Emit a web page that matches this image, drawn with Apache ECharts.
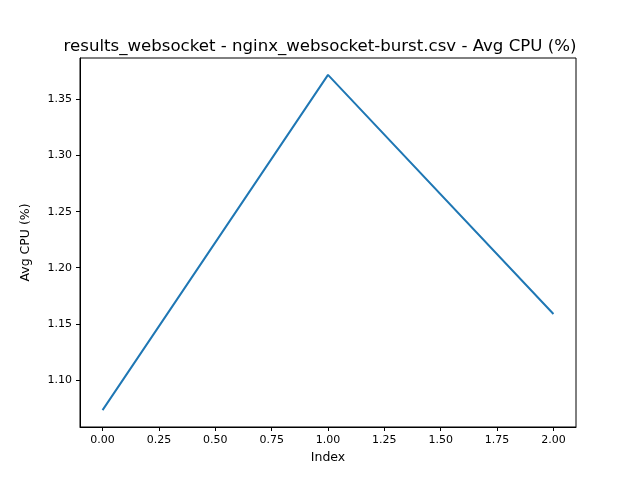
<!DOCTYPE html>
<html><head><meta charset="utf-8">
<script src="https://cdn.jsdelivr.net/npm/echarts@6/dist/echarts.min.js"></script>
<style>html,body{margin:0;background:#fff}#c{width:640px;height:480px}</style>
</head><body><div id="c"></div>
<script>
// data
const indices=[0,1,2];
const avgCpu=[1.073,1.372,1.1587];
const xTicks=[0,0.25,0.5,0.75,1,1.25,1.5,1.75,2];
const yTicks=[1.10,1.15,1.20,1.25,1.30,1.35];

const chart=echarts.init(document.getElementById("c"));
const font="DejaVu Sans";
const axisCommon={
    axisLine:{onZero:false,lineStyle:{color:"#000",width:1}},
    axisTick:{show:true,length:4,inside:false,lineStyle:{color:"#000"}},
    axisLabel:{color:"#000",fontFamily:font,fontSize:11},
    splitLine:{show:false},
    nameLocation:"middle",
    nameTextStyle:{color:"#000",fontFamily:font,fontSize:12.5}
};
chart.setOption({
    animation:false,
    title:{text:"results_websocket - nginx_websocket-burst.csv - Avg CPU (%)",left:"center",top:33,
        textStyle:{fontFamily:font,fontSize:16.6,fontWeight:"normal",color:"#000"}},
    grid:{left:80,right:64,top:58,bottom:53,show:true,borderColor:"#000",borderWidth:1},
    xAxis:Object.assign({},axisCommon,{
        type:"value",min:-0.1,max:2.1,name:"Index",nameGap:22,
        axisTick:Object.assign({},axisCommon.axisTick,{customValues:xTicks}),
        axisLabel:Object.assign({},axisCommon.axisLabel,{customValues:xTicks,formatter:v=>v.toFixed(2)})
    }),
    yAxis:Object.assign({},axisCommon,{
        type:"value",min:1.058,max:1.387,name:"Avg CPU (%)",nameGap:48,
        axisTick:Object.assign({},axisCommon.axisTick,{customValues:yTicks}),
        axisLabel:Object.assign({},axisCommon.axisLabel,{customValues:yTicks,formatter:v=>v.toFixed(2)})
    }),
    series:[{type:"line",data:indices.map((x,i)=>[x,avgCpu[i]]),showSymbol:false,
        lineStyle:{color:"#1f77b4",width:2}}]
});
</script></body></html>
